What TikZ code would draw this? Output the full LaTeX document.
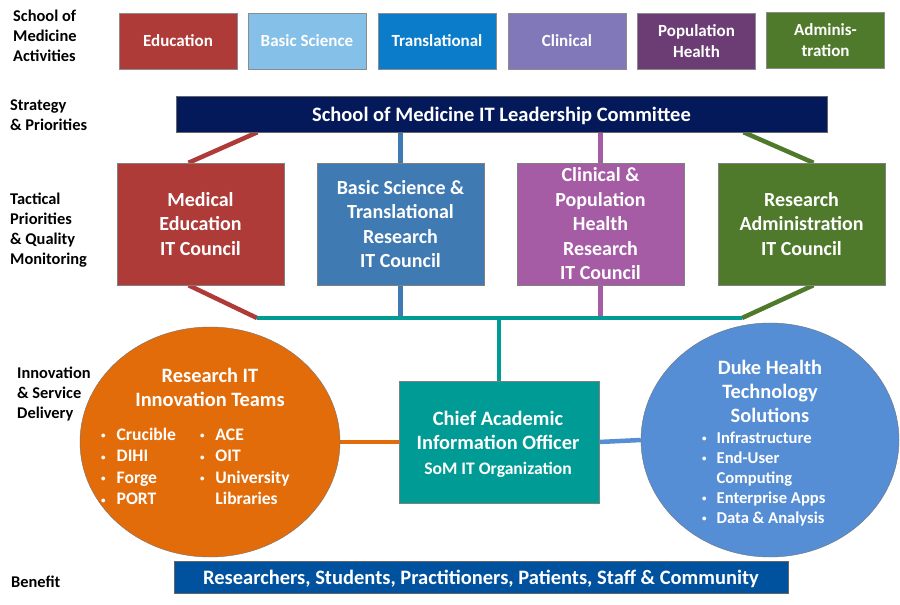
\documentclass[tikz,border=0pt]{standalone}
\usepackage{fontspec}
\setmainfont{Carlito}
\usetikzlibrary{shapes.geometric, backgrounds}
\definecolor{edred}{HTML}{AE3B38}
\definecolor{skyblue}{HTML}{85C0E8}
\definecolor{trblue}{HTML}{0A7CC9}
\definecolor{lilac}{HTML}{8078B9}
\definecolor{plum}{HTML}{6B3D74}
\definecolor{olive}{HTML}{4F7A2C}
\definecolor{cblue}{HTML}{3F7AB3}
\definecolor{cpurple}{HTML}{A55CA5}
\definecolor{navy}{HTML}{03195A}
\definecolor{caioteal}{HTML}{009B95}
\definecolor{innorange}{HTML}{E36C0A}
\definecolor{dukeblue}{HTML}{558ED5}
\definecolor{benblue}{HTML}{00519E}
\newcommand{\blt}{\raisebox{0.2ex}{\fontsize{9}{9}\selectfont\textbullet}}
\tikzset{
  rowlab/.style = {anchor=north west, align=left, inner sep=0pt, font=\bfseries\fontsize{16.4}{20}\selectfont},
  actbox/.style = {rectangle, draw=black!45, text=white, align=center, minimum width=118pt, minimum height=56pt, inner sep=1pt, font=\bfseries\fontsize{17}{21}\selectfont},
  council/.style = {rectangle, draw=black!50, text=white, align=center, minimum width=167pt, minimum height=122pt, inner sep=1pt, font=\bfseries\fontsize{20}{24.5}\selectfont},
  longbar/.style = {rectangle, draw=black!60, text=white, inner sep=0pt, text depth=0pt, font=\bfseries\fontsize{20.5}{24}\selectfont},
  teamoval/.style = {ellipse, draw=black!55, inner sep=0pt},
  ovaltitle/.style = {text=white, align=center, inner sep=0pt, font=\bfseries\fontsize{20.4}{24}\selectfont},
  ovallist/.style = {anchor=north west, text=white, inner sep=0pt},
  link/.style = {line width=4.5pt}
}

\begin{document}
\begin{tikzpicture}[x=1pt, y=-1pt]
  \useasboundingbox (0,0) rectangle (900,605);
  % row labels
  \node[rowlab] (labact) at (13,10) {School of\\Medicine\\Activities};
  \node[rowlab] (labstrat) at (10,100) {Strategy\\\& Priorities};
  \node[rowlab] (labtact) at (10,193) {Tactical\\Priorities\\\& Quality\\Monitoring};
  \node[rowlab] (labinno) at (17,367) {Innovation\\\& Service\\Delivery};
  \node[rowlab] (labben) at (11,576) {Benefit};

  % activities
  \node[actbox, fill=edred] (educ) at (178,41) {Education};
  \node[actbox, fill=skyblue] (basic) at (307,41) {Basic Science};
  \node[actbox, fill=trblue] (trans) at (437,41) {Translational};
  \node[actbox, fill=lilac] (clinic) at (567,41) {Clinical};
  \node[actbox, fill=plum] (pophealth) at (696.5,41) {Population\\Health};
  \node[actbox, fill=olive] (admin) at (825.5,40) {Adminis-\\tration};

  % leadership
  \node[longbar, fill=navy, minimum width=651pt, minimum height=36pt] (lead) at (501.5,114) {School of Medicine IT Leadership Committee};

  % councils
  \node[council, fill=edred] (meded) at (200.5,224) {Medical\\Education\\IT Council};
  \node[council, fill=cblue] (bsci) at (400.5,224) {Basic Science \&\\Translational\\Research\\IT Council};
  \node[council, fill=cpurple] (clin) at (600.5,224) {Clinical \&\\Population\\Health\\Research\\IT Council};
  \node[council, fill=olive] (radm) at (801.5,224) {Research\\Administration\\IT Council};

  % delivery
  \node[rectangle, draw=black!50, fill=caioteal, minimum width=200pt, minimum height=122pt] (caio) at (499,442) {};
  \node[text=white, align=center, inner sep=0pt, font=\bfseries\fontsize{20.4}{24.5}\selectfont] (caiotext) at (498,444)
        {Chief Academic\\Information Officer\\{\fontsize{17.6}{22.5}\selectfont SoM IT Organization}};

  \node[teamoval, fill=innorange, minimum width=260pt, minimum height=230pt] (teams) at (210,442) {};
  \node[ovaltitle] (teamstitle) at (210,387) {Research IT\\Innovation Teams};
  \node[ovallist, font=\bfseries\fontsize{17.6}{21.5}\selectfont] (teamslist) at (101,425)
    {\begin{tabular}{@{}l@{\hspace{11pt}}l@{\hspace{24pt}}l@{\hspace{11pt}}l@{}}
      \blt & Crucible & \blt & ACE\\
      \blt & DIHI & \blt & OIT\\
      \blt & Forge & \blt & University\\
      \blt & PORT & & Libraries
     \end{tabular}};

  \node[teamoval, fill=dukeblue, minimum width=258pt, minimum height=234pt] (dhts) at (770,440) {};
  \node[ovaltitle] (dhtstitle) at (770,391) {Duke Health\\Technology\\Solutions};
  \node[ovallist, font=\bfseries\fontsize{16.6}{20}\selectfont] (dhtslist) at (702,429)
    {\begin{tabular}{@{}l@{\hspace{10pt}}l@{}}
      \blt & Infrastructure\\
      \blt & End-User\\
      & Computing\\
      \blt & Enterprise Apps\\
      \blt & Data \& Analysis
     \end{tabular}};

  % benefit
  \node[longbar, fill=benblue, minimum width=614pt, minimum height=32pt] (benefit) at (481,577) {Researchers, Students, Practitioners, Patients, Staff \& Community};

  % connectors
  \coordinate (busL) at (257,318);
  \coordinate (busR) at (742,318);
  \begin{scope}[on background layer]
    \draw[link, edred] ([xshift=-244pt]lead.south) -- ([xshift=-12pt]meded.north);
    \draw[link, edred] ([xshift=-12pt]meded.south) -- (busL);
    \draw[link, cblue] (bsci.north |- lead.south) -- (bsci.north);
    \draw[link, cblue] (bsci.south) -- (bsci.south |- busL);
    \draw[link, cpurple] (clin.north |- lead.south) -- (clin.north);
    \draw[link, cpurple] (clin.south) -- (clin.south |- busL);
    \draw[link, olive] ([xshift=242pt]lead.south) -- ([xshift=12pt]radm.north);
    \draw[link, olive] ([xshift=12pt]radm.south) -- (busR);
    \draw[link, caioteal] (busL) -- (busR);
    \draw[link, caioteal] (caio.north |- busL) -- (caio.north);
    \draw[link, innorange] (teams.east) -- (caio.west);
    \draw[link, dukeblue] (caio.east) -- (dhts.west);
  \end{scope}
\end{tikzpicture}
\end{document}
